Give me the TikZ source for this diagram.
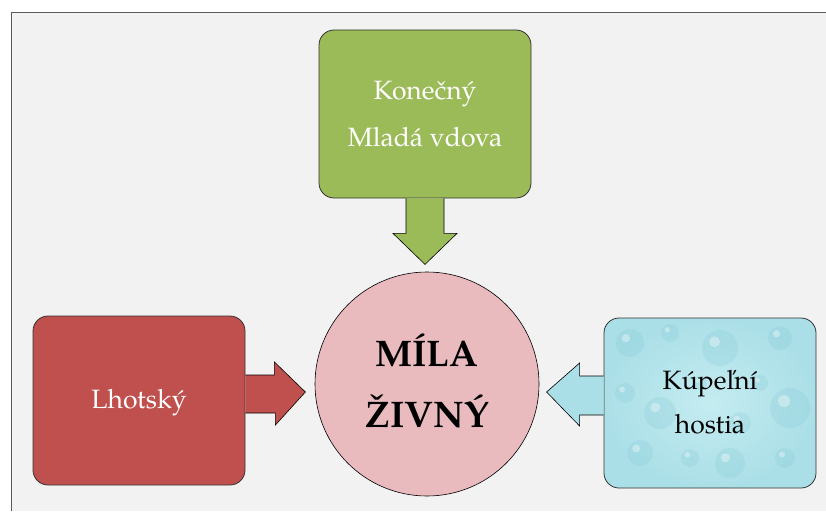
\documentclass[tikz,border=0pt]{standalone}
\usepackage{fontspec}
\setmainfont{TeX Gyre Pagella}
\usetikzlibrary{calc}

\definecolor{pagebg}{HTML}{F2F2F2}
\definecolor{framegray}{HTML}{5A5A5A}
\definecolor{olivefill}{HTML}{9BBB59}
\definecolor{brickfill}{HTML}{C0504D}
\definecolor{rosefill}{HTML}{E9BBBF}
\definecolor{aquafill}{HTML}{ABDFE7}
\definecolor{aqualight}{HTML}{C4ECF1}
\definecolor{aquadark}{HTML}{7FC6D3}

\tikzset{
  card/.style={draw=black!80, line width=0.8pt, rounded corners=15pt,
    minimum width=212pt, minimum height=168pt, inner sep=0pt},
  hub/.style={circle, draw=black, line width=0.6pt, fill=rosefill,
    minimum size=224pt, inner sep=0pt},
  blockarrow/.style={draw=black, line width=0.6pt, line join=miter},
  cardtext/.style={anchor=base, inner sep=0pt, font=\fontsize{26.5}{30}\selectfont},
  hubtext/.style={anchor=base, inner sep=0pt, font=\fontsize{37}{40}\selectfont\bfseries},
  drop/.style={fill=aquadark, fill opacity=0.22},
  shine/.style={fill=white, fill opacity=0.35},
  % water-drop texture inside the right card
  droplets/.style={path picture={
    \foreach \dx/\dy/\r in {-80/-60/14, -40/-70/9, 10/-55/18, 70/-65/12,
        -85/-10/10, -50/10/16, 30/20/11, 80/5/20, -70/50/13, -20/55/9,
        20/60/15, 75/55/10, 50/-20/8, -10/-20/7} {
      \fill[drop] ($(path picture bounding box.center)+(\dx,\dy)$) circle (\r pt);
      \fill[shine] ($(path picture bounding box.center)+(\dx-0.3*\r,\dy-0.35*\r)$) circle (0.3*\r pt);
    }}},
}

\begin{document}
\begin{tikzpicture}[x=1pt, y=-1pt]
  \useasboundingbox (0,0) rectangle (826,511);
  \fill[white] (0,0) rectangle (826,511);
  \fill[pagebg] (11,12) rectangle (826,511);
  \draw[framegray, line width=0.8pt] (11,511) -- (11,12) -- (826,12);

  % boxes and central circle
  \node[card, fill=olivefill] (topcard) at (425,114) {};
  \node[card, fill=brickfill, minimum height=169pt] (leftcard) at (139,400.5) {};
  \node[card, inner color=aqualight, outer color=aquafill, droplets,
        minimum height=170pt] (rightcard) at (710,403) {};
  \node[hub] (hub) at (427,384) {};

  % block arrow from the top box down to the circle
  \filldraw[blockarrow, fill=olivefill]
    ($(topcard.south)+(-19,0)$) -- ++(0,35) -- ++(-13,0)
    -- ($(topcard.south)+(0,66)$)
    -- ($(topcard.south)+(32,35)$) -- ++(-13,0) -- ($(topcard.south)+(19,0)$);

  % block arrow from the left box to the circle
  \coordinate (lbase) at ($(leftcard.east)+(0,-7.5)$);
  \filldraw[blockarrow, fill=brickfill]
    ($(lbase)+(0,-18)$) -- ++(29,0) -- ++(0,-13)
    -- ($(lbase)+(60,-1)$)
    -- ($(lbase)+(30,32)$) -- ++(0,-12) -- ($(lbase)+(0,20)$);

  % block arrow from the right box to the circle
  \coordinate (rbase) at ($(rightcard.west)+(0,-8.5)$);
  \filldraw[blockarrow, fill=aquafill]
    ($(rbase)+(0,-18.5)$) -- ++(-24,0) -- ++(0,-13)
    -- ($(rbase)+(-57,-2.5)$)
    -- ($(rbase)+(-24,31.5)$) -- ++(0,-11) -- ($(rbase)+(0,20.5)$);

  % labels
  \node[cardtext, text=white] (t1) at (425,99) {Konečný};
  \node[cardtext, text=white] (t2) at (425,146) {Mladá vdova};
  \node[cardtext, text=white] (t3) at (139,408) {Lhotský};
  \node[cardtext, text=black] (t4) at (710,389) {Kúpeľní};
  \node[cardtext, text=black] (t5) at (710,433) {hostia};
  \node[hubtext] (t6) at (427,366) {MÍLA};
  \node[hubtext] (t7) at (427,427) {ŽIVNÝ};
\end{tikzpicture}
\end{document}
